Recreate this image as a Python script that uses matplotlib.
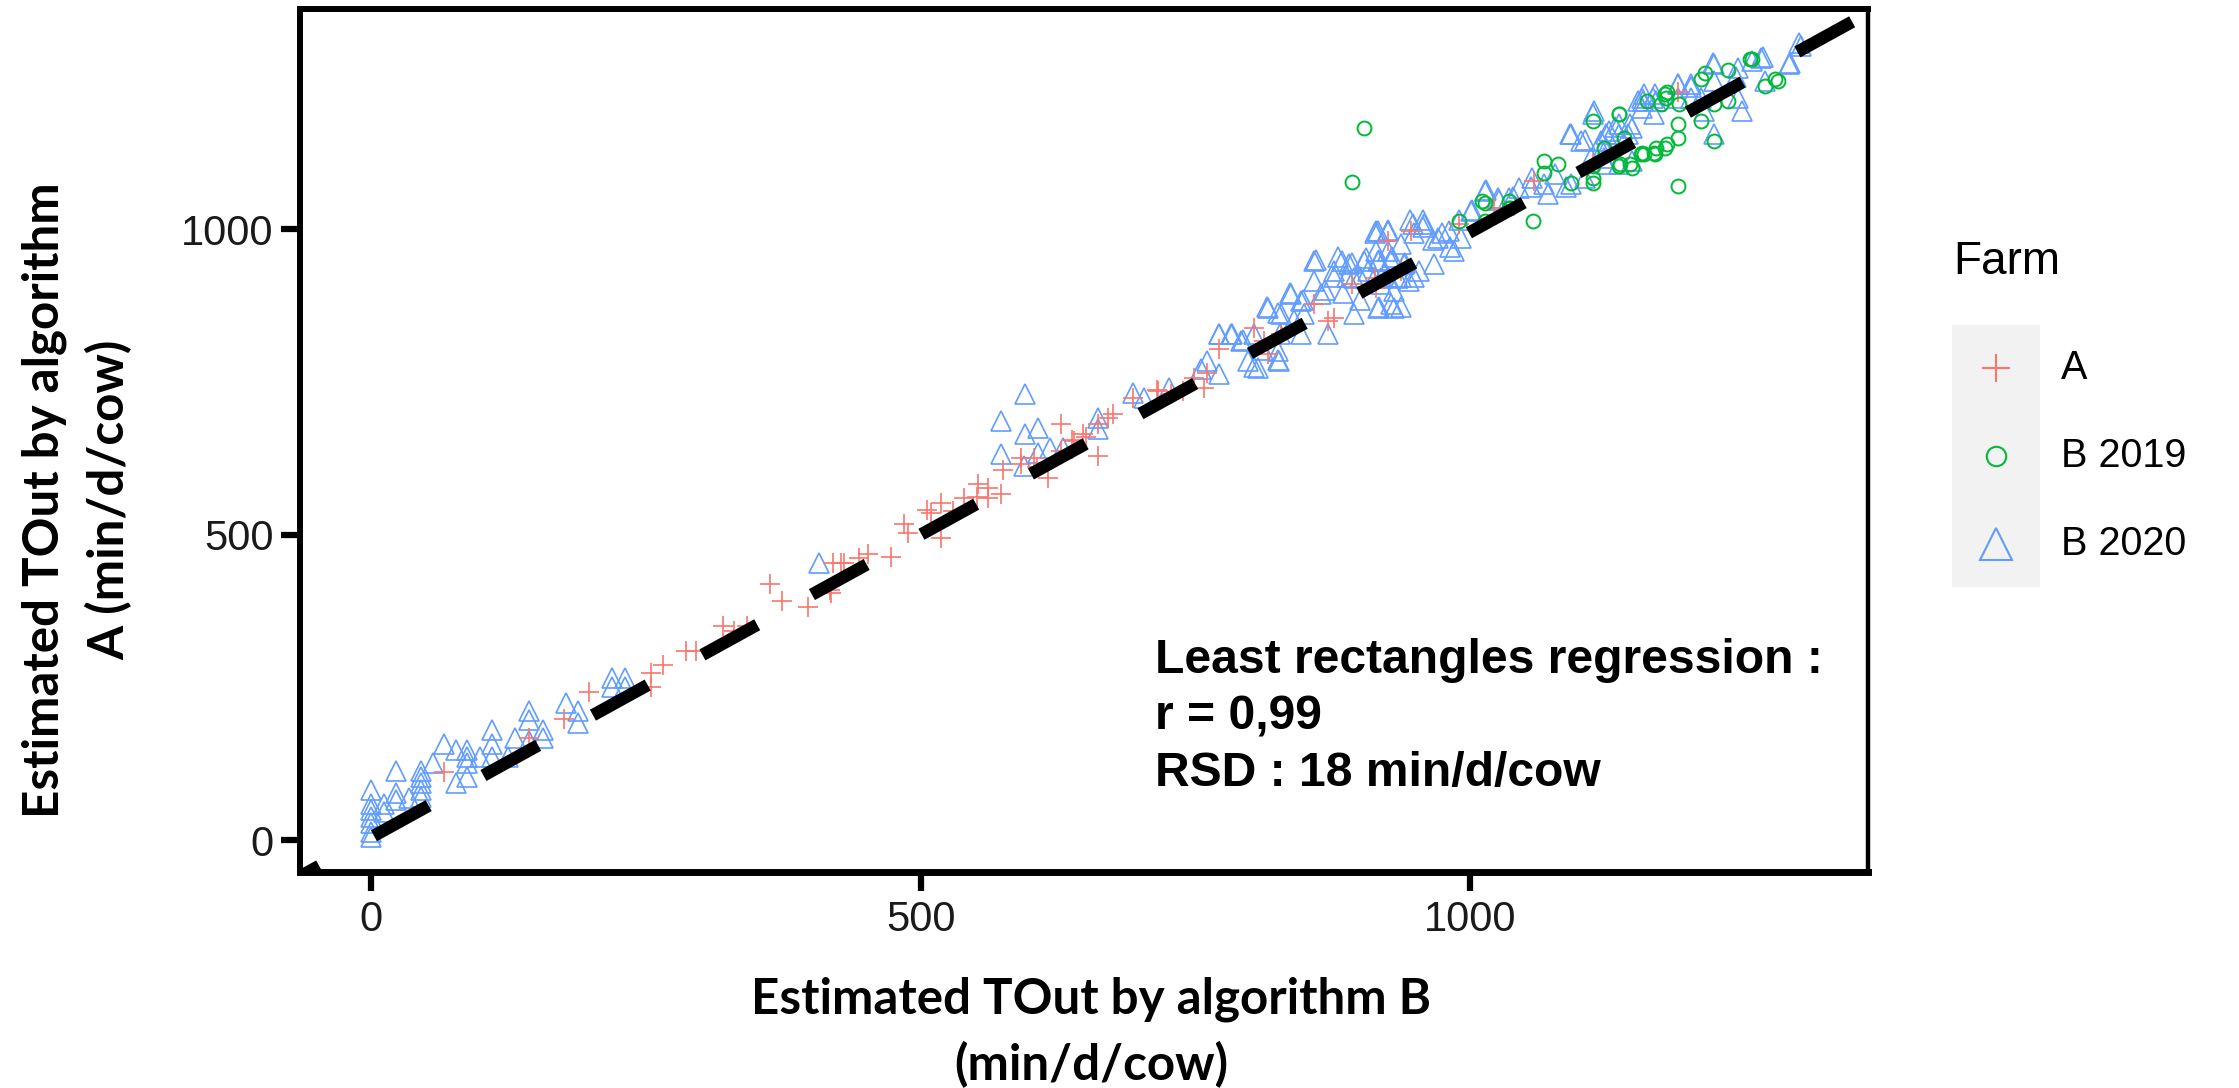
import numpy as np
import matplotlib
matplotlib.use("Agg")
import matplotlib.pyplot as plt

# Farm A (red +)
a_x = [66, 143, 175, 198, 254, 254, 265, 286, 295, 320, 330, 342, 363, 374, 397, 420, 430, 418, 444,
       452, 473, 485, 509, 518, 518, 529, 539, 552, 561, 573, 561, 575, 591, 591, 603, 616, 628, 628,
       639, 648, 661, 661, 670, 693, 716, 728, 739, 749, 758, 771, 803, 812, 816, 828, 858, 871, 876,
       892, 913, 925, 946, 937, 914, 990, 1022, 1058, 1112, 1189,
       427, 417, 488, 506, 551, 606, 638, 650, 675, 715, 760]
a_y = [111, 167, 199, 242, 273, 250, 286, 310, 310, 351, 343, 351, 420, 392, 381, 453, 453, 405, 461,
       469, 463, 518, 536, 551, 495, 539, 560, 583, 577, 567, 560, 605, 616, 626, 626, 593, 681, 637,
       654, 665, 681, 629, 691, 724, 735, 730, 735, 757, 740, 804, 838, 817, 796, 828, 877, 850, 855,
       910, 920, 980, 997, 931, 904, 1008, 1034, 1078, 1108, 1225,
       453, 409, 502, 540, 562, 611, 655, 660, 698, 736, 764]

# Farm B 2019 (green o)
b19_x = [892, 903, 990, 1013, 1013, 1035, 1035, 1057, 1067, 1067, 1080, 1092, 1112, 1112, 1112, 1112,
         1122, 1135, 1135, 1147, 1140, 1155, 1168, 1177, 1177, 1174, 1135, 1136, 1145, 1156, 1167, 1179,
         1179, 1189, 1189, 1210, 1210, 1222, 1222, 1235, 1235, 1256, 1277, 1268, 1189, 1214, 1255, 1280,
         1178, 1161, 1190, 1169, 1158, 1011, 1036]
b19_y = [1077, 1165, 1013, 1013, 1042, 1046, 1034, 1013, 1111, 1092, 1106, 1075, 1176, 1103, 1083, 1075,
         1132, 1188, 1103, 1100, 1149, 1123, 1123, 1132, 1221, 1204, 1188, 1106, 1106, 1124, 1124, 1139,
         1225, 1149, 1172, 1245, 1176, 1144, 1204, 1209, 1261, 1279, 1245, 1234, 1070, 1255, 1278, 1242,
         1214, 1209, 1204, 1132, 1123, 1046, 1034]

# Farm B 2020 (blue triangles)
b20_x = [0, 0, 0, 0, 0, 0, 0, 11, 11, 22, 22, 22, 34, 45, 45, 45, 45, 45, 56, 66, 77, 77, 87, 87, 87, 87,
         99, 110, 110, 110, 124, 131, 143, 143, 143, 156, 156, 177, 188, 188,
         219, 231, 219, 231, 407,
         595, 573, 595, 607, 573, 607, 618, 629, 594, 661, 661,
         693, 703, 726, 760, 771, 782, 755, 771, 791, 798, 807, 816, 828, 837, 825, 826, 846, 846, 849,
         858, 858, 864, 871, 876, 883, 890, 894, 894, 903, 907, 916, 925, 916, 919, 916, 931, 928, 934,
         914, 925, 914, 925, 937, 948, 958, 940, 953, 919, 931, 944, 928, 967, 971, 981, 992, 985, 1001,
         1013, 1025, 1035, 1044, 1056, 1067, 1077, 1092, 1101, 1092, 1104, 1113, 1119, 1126, 1135, 1110,
         1122, 1135, 1147, 1153, 1158, 1168, 1147,
         1124, 1124, 1124, 1135, 1145, 1156, 1156, 1166, 1167, 1189, 1189, 1201, 1201, 1210, 1222, 1222,
         1213, 1222, 1244, 1244, 1247, 1256, 1265, 1268, 1290, 1301,
         860, 880, 892, 905, 917, 929, 941, 876, 888, 900, 913, 925, 937, 949, 868, 884, 900, 917, 937,
         836, 848, 815, 825, 840, 827, 811, 825, 803, 771, 783, 793, 803, 949, 957, 966, 974, 982, 913,
         925, 945, 957, 990, 1002, 1014, 1026, 1039, 1055, 1071, 1087, 1091, 1104, 1112, 1120, 1132,
         1144, 1157, 1169, 1189, 1201, 1221, 1242, 1266, 1291, 1299]
b20_y = [82, 60, 49, 38, 28, 13, 5, 60, 46, 114, 78, 65, 69, 114, 103, 93, 82, 70, 126, 158, 147, 93, 147,
         136, 126, 103, 136, 180, 158, 136, 136, 168, 212, 196, 163, 180, 167, 224, 212, 191,
         266, 266, 250, 250, 453,
         730, 686, 665, 675, 632, 634, 642, 641, 613, 690, 673,
         732, 724, 740, 784, 828, 828, 771, 763, 817, 784, 773, 871, 861, 894, 801, 784, 828, 882, 861,
         948, 915, 894, 828, 931, 948, 943, 920, 861, 948, 931, 997, 997, 948, 920, 871, 871, 948, 920,
         997, 997, 964, 964, 975, 1008, 1008, 943, 931, 910, 899, 915, 877, 943, 985, 997, 985, 964, 1029,
         1062, 1051, 1051, 1067, 1083, 1074, 1090, 1155, 1144, 1074, 1083, 1193, 1144, 1160, 1172, 1116,
         1116, 1106, 1111, 1209, 1221, 1221, 1165,
         1155, 1132, 1106, 1155, 1172, 1214, 1198, 1214, 1188, 1237, 1214, 1237, 1214, 1214, 1270, 1242,
         1193, 1155, 1263, 1214, 1193, 1275, 1280, 1242, 1270, 1299,
         949, 955, 944, 952, 949, 955, 944, 922, 922, 922, 922, 922, 922, 922, 900, 895, 884, 873, 873,
         895, 884, 873, 862, 851, 829, 802, 786, 775, 829, 829, 818, 829, 993, 1004, 982, 993, 971, 993,
         998, 1015, 1015, 1015, 1031, 1064, 1047, 1053, 1069, 1058, 1069, 1156, 1146, 1189, 1129, 1167,
         1156, 1210, 1210, 1238, 1233, 1271, 1249, 1282, 1271, 1304]

# least rectangles regression line
fit_slope = 0.99
fit_intercept = 5

farms = ["A", "B 2019", "B 2020"]
colors = {"A": "#F8766D", "B 2019": "#00BA38", "B 2020": "#619CFF"}
markers = {"A": "+", "B 2019": "o", "B 2020": "^"}

W, H = 2239, 1088
fig = plt.figure(figsize=(W / 100, H / 100), dpi=100)
ax = fig.add_axes([300 / W, 1 - 872 / H, 1568 / W, 863 / H])

ax.plot(b20_x, b20_y, ls="none", marker="^", ms=14, mfc="none", mec=colors["B 2020"], mew=1.2)
ax.plot(a_x, a_y, ls="none", marker="+", ms=15, mec=colors["A"], mew=1.2)
ax.plot(b19_x, b19_y, ls="none", marker="o", ms=10, mfc="none", mec=colors["B 2019"], mew=1.4)

x_fit = np.array([-197.0, 1500.0])
ax.plot(x_fit, fit_intercept + fit_slope * x_fit, color="black", lw=9, dashes=(5, 5),
        solid_capstyle="butt", dash_capstyle="butt", zorder=5)

ax.set_xlim(-65, 1362)
ax.set_ylim(-52, 1360)
ax.set_xticks([0, 500, 1000])
ax.set_yticks([0, 500, 1000])
ax.tick_params(axis="both", length=14, width=4.5, color="black", labelsize=30,
               labelcolor="#1a1a1a", labelfontfamily="Liberation Sans")
ax.tick_params(axis="x", pad=6)
ax.tick_params(axis="y", pad=5)
for side, lw in [("left", 4.3), ("bottom", 5), ("top", 4.3), ("right", 3.2)]:
    ax.spines[side].set_linewidth(lw)
    ax.spines[side].set_color("black")

# annotation
ann = ["Least rectangles regression :", "r = 0,99", "RSD : 18 min/d/cow"]
for i, line in enumerate(ann):
    fig.text(1155 / W, 1 - (673 + 56.5 * i) / H, line, fontsize=34.6, fontweight="bold",
             family="Liberation Sans", ha="left", va="baseline")

# axis labels
lab_font = dict(family="Lato", fontweight="bold", fontsize=35.5)
fig.text(1091 / W, 1 - 1013 / H, "Estimated TOut by algorithm B", ha="center", va="baseline", **lab_font)
fig.text(1091 / W, 1 - 1080 / H, "(min/d/cow)", ha="center", va="baseline", **lab_font)
fig.text(59 / W, 1 - 500 / H, "Estimated TOut by algorithm", rotation=90, rotation_mode="anchor",
         ha="center", va="baseline", **lab_font)
fig.text(124 / W, 1 - 500 / H, "A (min/d/cow)", rotation=90, rotation_mode="anchor",
         ha="center", va="baseline", **lab_font)

# legend
fig.text(1953 / W, 1 - 262 / H, "Farm", fontsize=33, family="Liberation Sans", ha="left", va="center")
lax = fig.add_axes([1952 / W, 1 - 587 / H, 88 / W, 262 / H])
lax.set_facecolor("#F2F2F2")
for s in lax.spines.values():
    s.set_visible(False)
lax.set_xticks([])
lax.set_yticks([])
lax.set_xlim(-1, 1)
lax.set_ylim(2.49, -0.49)
leg_size = {"A": 20, "B 2019": 14, "B 2020": 23}
for i, f in enumerate(farms):
    lax.plot([0], [i], ls="none", marker=markers[f], ms=leg_size[f], mfc="none",
             mec=colors[f], mew=1.5)
    lax.text(1.47, i, f, fontsize=28.5, family="Liberation Sans", ha="left", va="center", clip_on=False)

fig.savefig("out.png", dpi=100)
